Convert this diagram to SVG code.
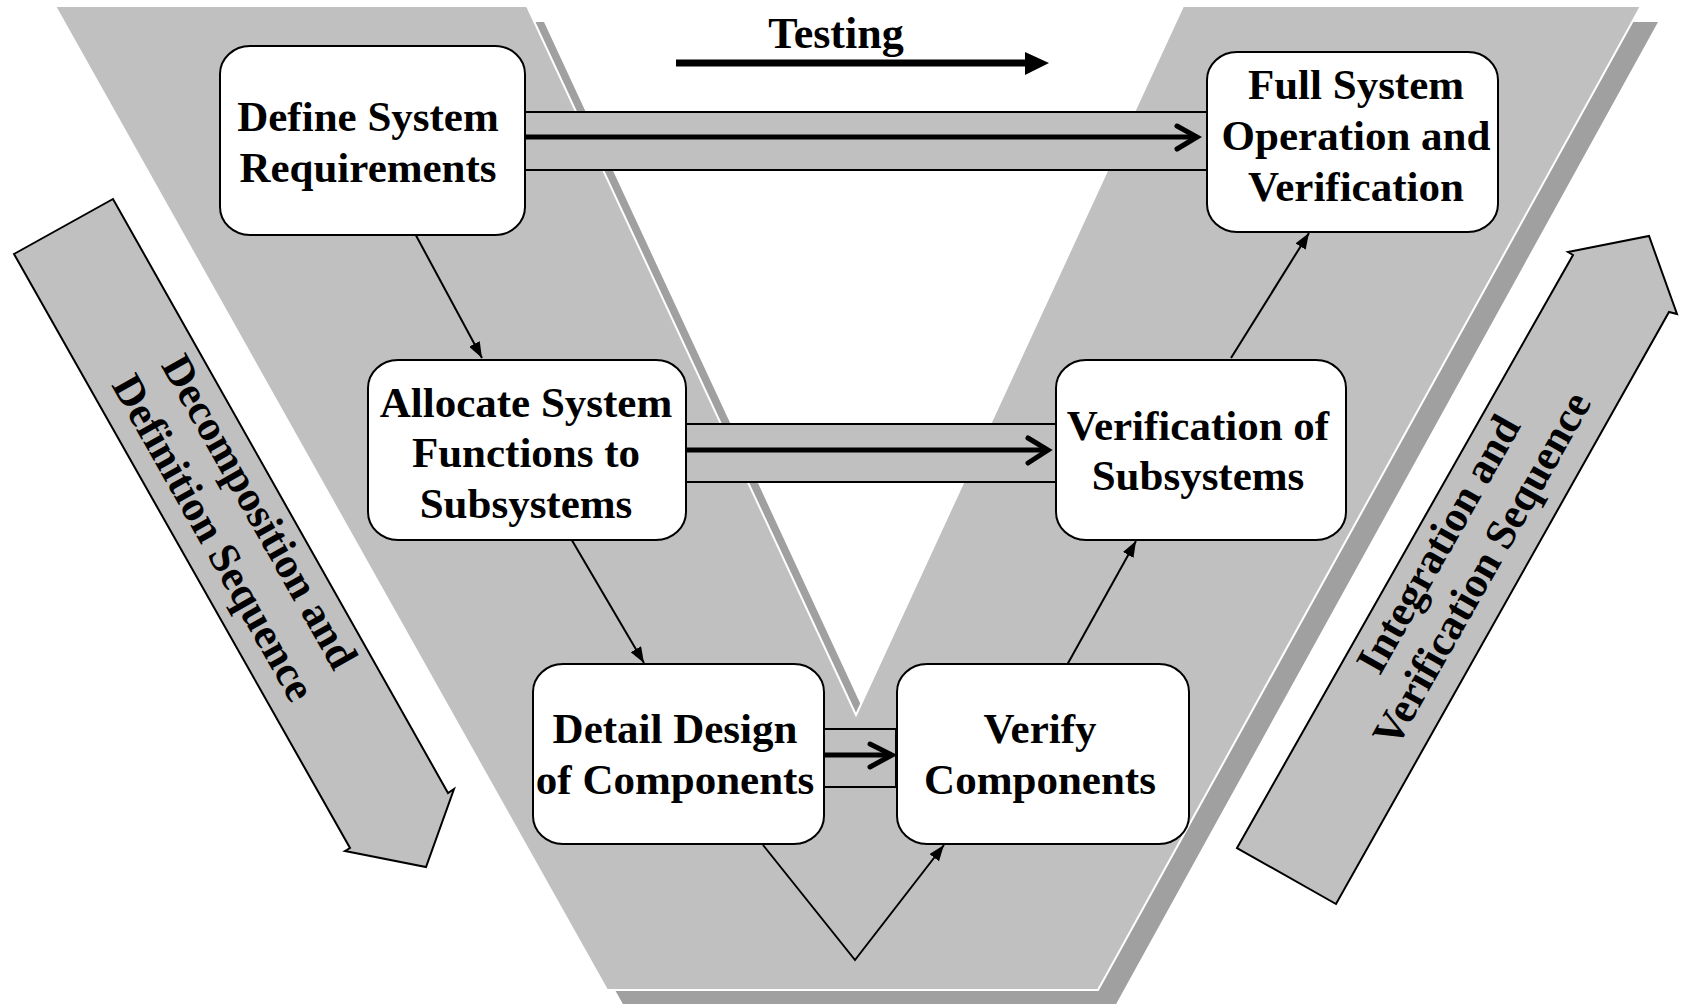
<svg xmlns="http://www.w3.org/2000/svg" width="1681" height="1004" viewBox="0 0 1681 1004">
<style>
.t{font-family:"Liberation Serif","Times New Roman",serif;font-weight:bold;font-size:43px;fill:#000;text-anchor:middle}
.r{font-family:"Liberation Serif","Times New Roman",serif;font-weight:bold;font-size:43px;fill:#000;text-anchor:middle}
.box{fill:#fff;stroke:#000;stroke-width:2}
.band{fill:#c0c0c0;stroke:#000;stroke-width:2}
.thick{fill:none;stroke:#000;stroke-width:5}
.chev{fill:none;stroke:#000;stroke-width:5;stroke-linecap:round;stroke-linejoin:miter}
.thin{fill:none;stroke:#000;stroke-width:2;marker-end:url(#ah)}
.blk{fill:#c0c0c0;stroke:#000;stroke-width:2;stroke-linejoin:miter}
</style>
<defs>
<marker id="ah" markerUnits="userSpaceOnUse" markerWidth="18" markerHeight="12" refX="16" refY="6" orient="auto">
<path d="M0,0 L16,6 L0,12 z" fill="#000"/>
</marker>
</defs>
<rect width="1681" height="1004" fill="#fff"/>
<g id="v-shape">
<polygon points="72,22 544,22 873,731 1200,22 1658,22 1115,1006 624,1006" fill="#a0a0a0"/>
<polygon points="55,6 527,6 856,715 1183,6 1641,6 1098,990 607,990" fill="#c0c0c0" stroke="#fff" stroke-width="2"/>
</g>
<g id="decomposition-arrow">
<polygon class="blk" points="14,254 113,199 448,793 454,789 426,867 345,851 350,848"/>
<g transform="translate(236,525) rotate(60.5)">
<text class="r" x="0" y="-13">Decomposition and</text>
<text class="r" x="0" y="40">Definition Sequence</text>
</g>
</g>
<g id="integration-arrow">
<polygon class="blk" points="1237,848 1573,255 1568,252 1649,236 1677,314 1669,312 1336,904"/>
<g transform="translate(1461,557) rotate(-60.5)">
<text class="r" x="0" y="-12">Integration and</text>
<text class="r" x="0" y="38">Verification Sequence</text>
</g>
</g>
<g id="testing">
<text class="t" x="836" y="48" style="font-size:44px">Testing</text>
<line x1="676" y1="63" x2="1027" y2="63" stroke="#000" stroke-width="7"/>
<polygon points="1025,52 1049,63 1025,75" fill="#000"/>
</g>
<g id="connectors">
<rect class="band" x="525" y="112" width="683" height="58"/>
<line class="thick" x1="522" y1="137" x2="1195" y2="137"/>
<polyline class="chev" points="1177,126 1197,137 1177,149"/>
<rect class="band" x="686" y="424" width="370" height="58"/>
<line class="thick" x1="686" y1="450" x2="1046" y2="450"/>
<polyline class="chev" points="1028,438 1048,450 1028,463"/>
<rect class="band" x="824" y="729" width="72" height="58"/>
<line class="thick" x1="824" y1="755" x2="891" y2="755"/>
<polyline class="chev" points="870,744 892,755 870,767"/>
<line class="thin" x1="412" y1="228" x2="482" y2="358"/>
<line class="thin" x1="570" y1="537" x2="644" y2="663"/>
<polyline class="thin" points="763,845 855,960 944,845"/>
<line class="thin" x1="1067" y1="665" x2="1136" y2="541"/>
<line class="thin" x1="1231" y1="358" x2="1309" y2="233"/>
</g>
<g id="define-system-requirements">
<rect class="box" x="220" y="46" width="305" height="189" rx="30" ry="28"/>
<text class="t" x="368" y="131">Define System</text>
<text class="t" x="368" y="182">Requirements</text>
</g>
<g id="allocate-system-functions">
<rect class="box" x="368" y="360" width="318" height="180" rx="30" ry="28"/>
<text class="t" x="526" y="417">Allocate System</text>
<text class="t" x="526" y="467">Functions to</text>
<text class="t" x="526" y="518">Subsystems</text>
</g>
<g id="detail-design">
<rect class="box" x="533" y="664" width="291" height="180" rx="30" ry="28"/>
<text class="t" x="675" y="743">Detail Design</text>
<text class="t" x="675" y="794">of Components</text>
</g>
<g id="verify-components">
<rect class="box" x="897" y="664" width="292" height="180" rx="30" ry="28"/>
<text class="t" x="1040" y="743">Verify</text>
<text class="t" x="1040" y="794">Components</text>
</g>
<g id="verification-of-subsystems">
<rect class="box" x="1056" y="360" width="290" height="180" rx="30" ry="28"/>
<text class="t" x="1198" y="440">Verification of</text>
<text class="t" x="1198" y="490">Subsystems</text>
</g>
<g id="full-system-operation">
<rect class="box" x="1207" y="52" width="291" height="180" rx="30" ry="28"/>
<text class="t" x="1356" y="99">Full System</text>
<text class="t" x="1356" y="150">Operation and</text>
<text class="t" x="1356" y="201">Verification</text>
</g>
</svg>
